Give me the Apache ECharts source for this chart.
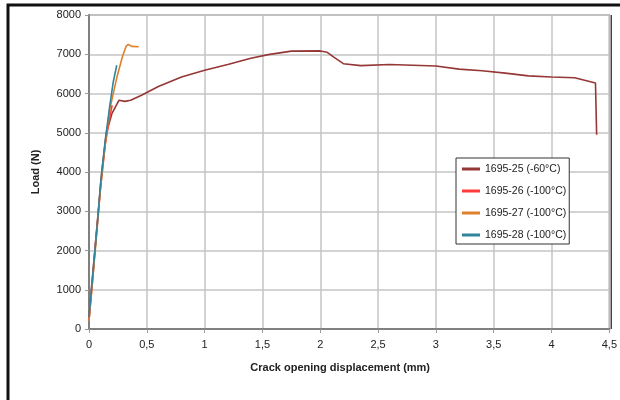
<!DOCTYPE html>
<html><head><meta charset="utf-8">
<script src="https://cdn.jsdelivr.net/npm/echarts@6/dist/echarts.min.js"></script>
<style>html,body{margin:0;padding:0;background:#fff}#c{width:620px;height:400px}</style>
</head><body><div id="c"></div>
<script>
var seriesNames = ['1695-25 (-60°C)', '1695-26 (-100°C)', '1695-27 (-100°C)', '1695-28 (-100°C)'];
var xTicks = ['0', '0,5', '1', '1,5', '2', '2,5', '3', '3,5', '4', '4,5'];
var s25 = [[0,250],[0.02,1000],[0.05,2000],[0.08,3000],[0.11,4000],[0.15,5000],[0.2,5500],[0.26,5830],[0.31,5800],[0.36,5830],[0.45,5950],[0.6,6180],[0.8,6420],[1.0,6590],[1.2,6740],[1.4,6900],[1.55,6990],[1.75,7080],[2.0,7085],[2.06,7050],[2.12,6920],[2.2,6760],[2.35,6710],[2.6,6740],[2.8,6720],[3.0,6700],[3.2,6620],[3.4,6580],[3.6,6520],[3.8,6450],[4.0,6420],[4.2,6400],[4.38,6270],[4.39,4950]];
var s26 = [[0,250],[0.03,1200],[0.06,2300],[0.1,3600],[0.14,4700],[0.18,5400],[0.2,5700]];
var s27 = [[0,200],[0.03,1200],[0.06,2200],[0.1,3600],[0.14,4700],[0.18,5600],[0.24,6400],[0.29,6950],[0.32,7200],[0.34,7250],[0.37,7200],[0.43,7190]];
var s28 = [[0,300],[0.03,1300],[0.07,2600],[0.1,3700],[0.14,4800],[0.18,5700],[0.21,6300],[0.24,6720]];
var colors = ['#953735', '#FF3B3B', '#E07F2A', '#31859C'];

var chart = echarts.init(document.getElementById('c'));
var font = 'Liberation Sans, Arial, sans-serif';
function line(name, data, color){
  return {name:name, type:'line', data:data, showSymbol:false, symbol:'none',
    lineStyle:{color:color, width:1.6}, itemStyle:{color:color}, animation:false};
}
chart.setOption({
  animation:false,
  textStyle:{fontFamily:font},
  grid:{left:89, right:9, top:15, bottom:71, show:true, borderColor:'#999', borderWidth:1.5},
  xAxis:{type:'value', min:0, max:4.5, interval:0.5,
    name:'Crack opening displacement (mm)', nameLocation:'middle', nameGap:33,
    nameTextStyle:{fontFamily:font, fontSize:11, fontWeight:'bold', color:'#222', padding:[0,18,0,0]},
    axisLine:{lineStyle:{color:'#808080', width:2}},
    axisTick:{show:true, length:4, lineStyle:{color:'#999'}},
    axisLabel:{fontFamily:font, fontSize:11, color:'#222', margin:10,
      formatter:function(v){return xTicks[Math.round(v/0.5)];}},
    splitLine:{show:true, lineStyle:{color:'#c4c4c4', width:1.5}}},
  yAxis:{type:'value', min:0, max:8000, interval:1000,
    name:'Load (N)', nameLocation:'middle', nameGap:48,
    nameTextStyle:{fontFamily:font, fontSize:11, fontWeight:'bold', color:'#222'},
    axisLine:{show:true, lineStyle:{color:'#808080', width:2}},
    axisTick:{show:true, length:4, lineStyle:{color:'#999'}},
    axisLabel:{fontFamily:font, fontSize:11, color:'#222', margin:8,
      formatter:function(v){return String(v);}},
    splitLine:{show:true, lineStyle:{color:'#c4c4c4', width:1.5}}},
  legend:{orient:'vertical', left:456, top:158, data:seriesNames,
    backgroundColor:'#fff', borderColor:'#333', borderWidth:1, borderRadius:0,
    padding:[4,3,2,6], itemGap:8, itemWidth:18, itemHeight:3, icon:'rect',
    textStyle:{fontFamily:font, fontSize:10.5, color:'#222', lineHeight:14}},
  graphic:[
    {type:'rect', shape:{x:8, y:5, width:700, height:500}, style:{fill:'none', stroke:'#111', lineWidth:3}, silent:true},
    {type:'line', shape:{x1:611, y1:15, x2:611, y2:329}, style:{stroke:'#444', lineWidth:2}, silent:true}
  ],
  series:[line(seriesNames[0], s25, colors[0]), line(seriesNames[1], s26, colors[1]), line(seriesNames[2], s27, colors[2]), line(seriesNames[3], s28, colors[3])]
});
</script></body></html>
